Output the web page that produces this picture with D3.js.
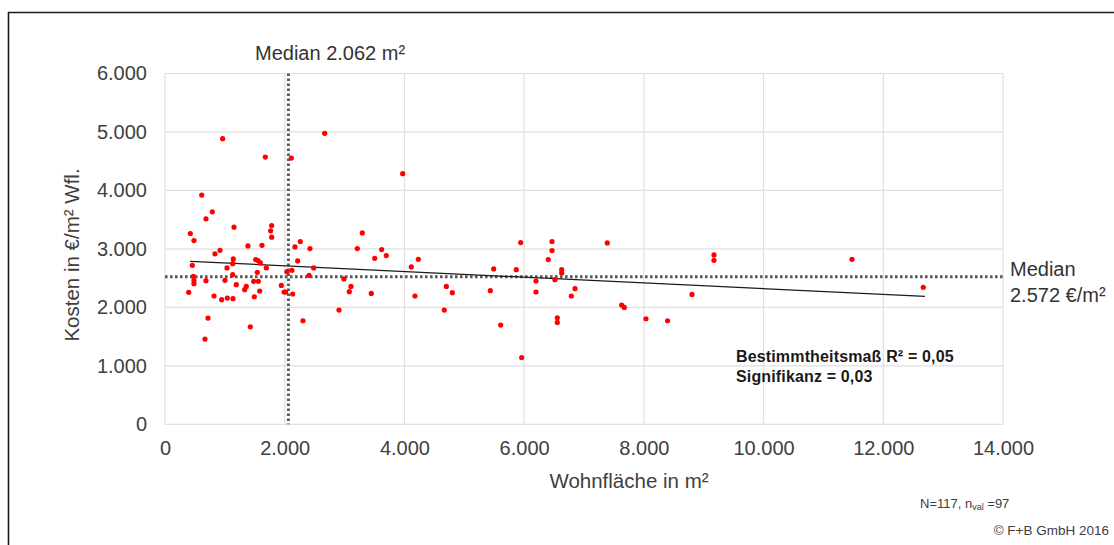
<!DOCTYPE html>
<html>
<head>
<meta charset="utf-8">
<script src="https://cdn.jsdelivr.net/npm/d3@7/dist/d3.min.js"></script>
<style>
  html, body { margin: 0; padding: 0; background: #fff; }
  svg { display: block; font-family: "Liberation Sans", Arial, sans-serif; }
</style>
</head>
<body>
<svg id="chart" width="1114" height="545"></svg>
<script>
// ---- Data ----
const wohnflaeche = [963,1676,2110,613,791,685,1153,1782,1765,1782,423,484,1386,1620,919,835,2260,2171,2422,1141,1131,1515,1554,1593,1036,1693,456,2216,2484,1542,1131,474,484,484,685,1002,1482,1559,1191,1358,1331,1582,2038,2121,2406,1943,1990,2016,2133,396,819,947,1041,1136,1492,718,1425,2305,668,
  2668,3971,3296,3213,3620,3697,3503,4232,4115,2990,3107,3079,3446,4176,4700,4800,2907,4666,
  5942,6466,6466,6404,7389,5491,5869,6627,6627,6198,6514,5435,6198,6850,6788,7629,7673,8035,5608,6554,6554,5959,
  9171,9171,11477,12668,8804,8396];
const kosten = [4886,4571,4554,3920,3634,3514,3371,3400,3309,3200,3263,3143,3051,3062,2976,2914,3125,3034,3005,2829,2748,2817,2800,2760,2674,2674,2719,2794,2674,2599,2560,2531,2462,2405,2457,2462,2445,2445,2388,2359,2302,2280,2611,2633,2548,2376,2263,2263,2229,2257,2194,2131,2160,2148,2182,1817,1668,1771,1457,
  4977,4286,3274,3005,2988,2885,2839,2822,2692,2486,2359,2268,2239,2194,2359,2251,1954,1954,
  3108,3125,2971,2817,3103,2657,2645,2645,2588,2451,2474,2285,2263,2320,2194,2040,1999,1805,1697,1822,1742,1142,
  2897,2805,2822,2342,2222,1771];

const xTicks = [0, 2000, 4000, 6000, 8000, 10000, 12000, 14000];
const yTicks = [0, 1000, 2000, 3000, 4000, 5000, 6000];

// regression line end points
const trendX = [418, 12697];
const trendY = [2788, 2188];

// median lines (positions as drawn) and their labels
const medianArea = 2062;
const medianCostLine = 2525;
const medianAreaLabel = "Median 2.062 m²";
const medianCostLabel = ["Median", "2.572 €/m²"];

const statLines = ["Bestimmtheitsmaß R² = 0,05", "Signifikanz = 0,03"];
const xTitle = "Wohnfläche in m²";
const yTitle = "Kosten in €/m² Wfl.";
const copyright = "© F+B GmbH 2016";

// ---- Layout ----
const svg = d3.select("#chart");
const pL = 165, pR = 1003, pT = 73.5, pB = 424.3;

const x = d3.scaleLinear().domain([0, 14000]).range([pL, pR]);
const y = d3.scaleLinear().domain([0, 6000]).range([pB, pT]);

const de = d3.formatLocale({decimal: ",", thousands: ".", grouping: [3], currency: ["", " €"]});
const fmt = de.format(",.0f");

const textCol = "#404040";

// outer frame (partially cropped)
svg.append("path")
  .attr("d", `M8.5,545 L8.5,12.5 L1114,12.5`)
  .attr("fill", "none").attr("stroke", "#1a1a1a").attr("stroke-width", 1.6);

// gridlines
svg.append("g").selectAll("line").data(yTicks).join("line")
  .attr("x1", pL).attr("x2", pR)
  .attr("y1", d => y(d)).attr("y2", d => y(d))
  .attr("stroke", "#e0e0e0").attr("stroke-width", 1.2);
svg.append("g").selectAll("line").data(xTicks).join("line")
  .attr("y1", pT).attr("y2", pB)
  .attr("x1", d => x(d)).attr("x2", d => x(d))
  .attr("stroke", "#e0e0e0").attr("stroke-width", 1.2);

// tick labels via axes
const yAxis = svg.append("g").attr("transform", `translate(${pL},0)`)
  .call(d3.axisLeft(y).tickValues(yTicks).tickFormat(fmt).tickSize(0).tickPadding(18));
const xAxis = svg.append("g").attr("transform", `translate(0,${pB})`)
  .call(d3.axisBottom(x).tickValues(xTicks).tickFormat(fmt).tickSize(0).tickPadding(17));
[yAxis, xAxis].forEach(a => {
  a.select(".domain").remove();
  a.selectAll("text").attr("fill", textCol)
    .style("font-size", "20px").style("font-family", "Liberation Sans, Arial, sans-serif");
});

// axis titles
svg.append("text").attr("x", 629).attr("y", 488).attr("text-anchor", "middle")
  .attr("fill", textCol).style("font-size", "20.5px").text(xTitle);
svg.append("text").attr("transform", "translate(79,255) rotate(-90)").attr("text-anchor", "middle")
  .attr("fill", textCol).style("font-size", "20.5px").text(yTitle);

// median lines (dotted)
svg.append("line")
  .attr("x1", x(medianArea)).attr("x2", x(medianArea))
  .attr("y1", pT).attr("y2", pB)
  .attr("stroke", "#5a5a5a").attr("stroke-width", 3).attr("stroke-dasharray", "2.6,2.4");
svg.append("line")
  .attr("x1", pL).attr("x2", pR)
  .attr("y1", y(medianCostLine)).attr("y2", y(medianCostLine))
  .attr("stroke", "#5a5a5a").attr("stroke-width", 3).attr("stroke-dasharray", "2.6,2.4");

// trend line
svg.append("line")
  .attr("x1", x(trendX[0])).attr("y1", y(trendY[0]))
  .attr("x2", x(trendX[1])).attr("y2", y(trendY[1]))
  .attr("stroke", "#1a1a1a").attr("stroke-width", 1.2);

// points
svg.append("g").selectAll("circle").data(d3.range(wohnflaeche.length)).join("circle")
  .attr("cx", i => x(wohnflaeche[i])).attr("cy", i => y(kosten[i]))
  .attr("r", 2.6).attr("fill", "#ff0000");

// median labels
svg.append("text").attr("x", 255).attr("y", 60).attr("fill", "#333")
  .style("font-size", "20px").text(medianAreaLabel);
svg.append("g").selectAll("text").data(medianCostLabel).join("text")
  .attr("x", 1010).attr("y", (d, i) => 276 + i * 26)
  .attr("fill", "#333").style("font-size", "20px").text(d => d);

// stats annotation
svg.append("g").selectAll("text").data(statLines).join("text")
  .attr("x", 736).attr("y", (d, i) => 362 + i * 20)
  .attr("fill", "#1a1a1a").style("font-size", "16px").style("font-weight", "bold")
  .style("letter-spacing", "0.15px")
  .text(d => d);

// N note with subscript
const nt = svg.append("text").attr("x", 920).attr("y", 508).attr("fill", textCol).style("font-size", "13px");
nt.append("tspan").text("N=117, n");
nt.append("tspan").attr("dy", 2).style("font-size", "9px").text("val");
nt.append("tspan").attr("dy", -2).text(" =97");

svg.append("text").attr("x", 1109).attr("y", 535).attr("text-anchor", "end")
  .attr("fill", textCol).style("font-size", "13.5px").text(copyright);
</script>
</body>
</html>
